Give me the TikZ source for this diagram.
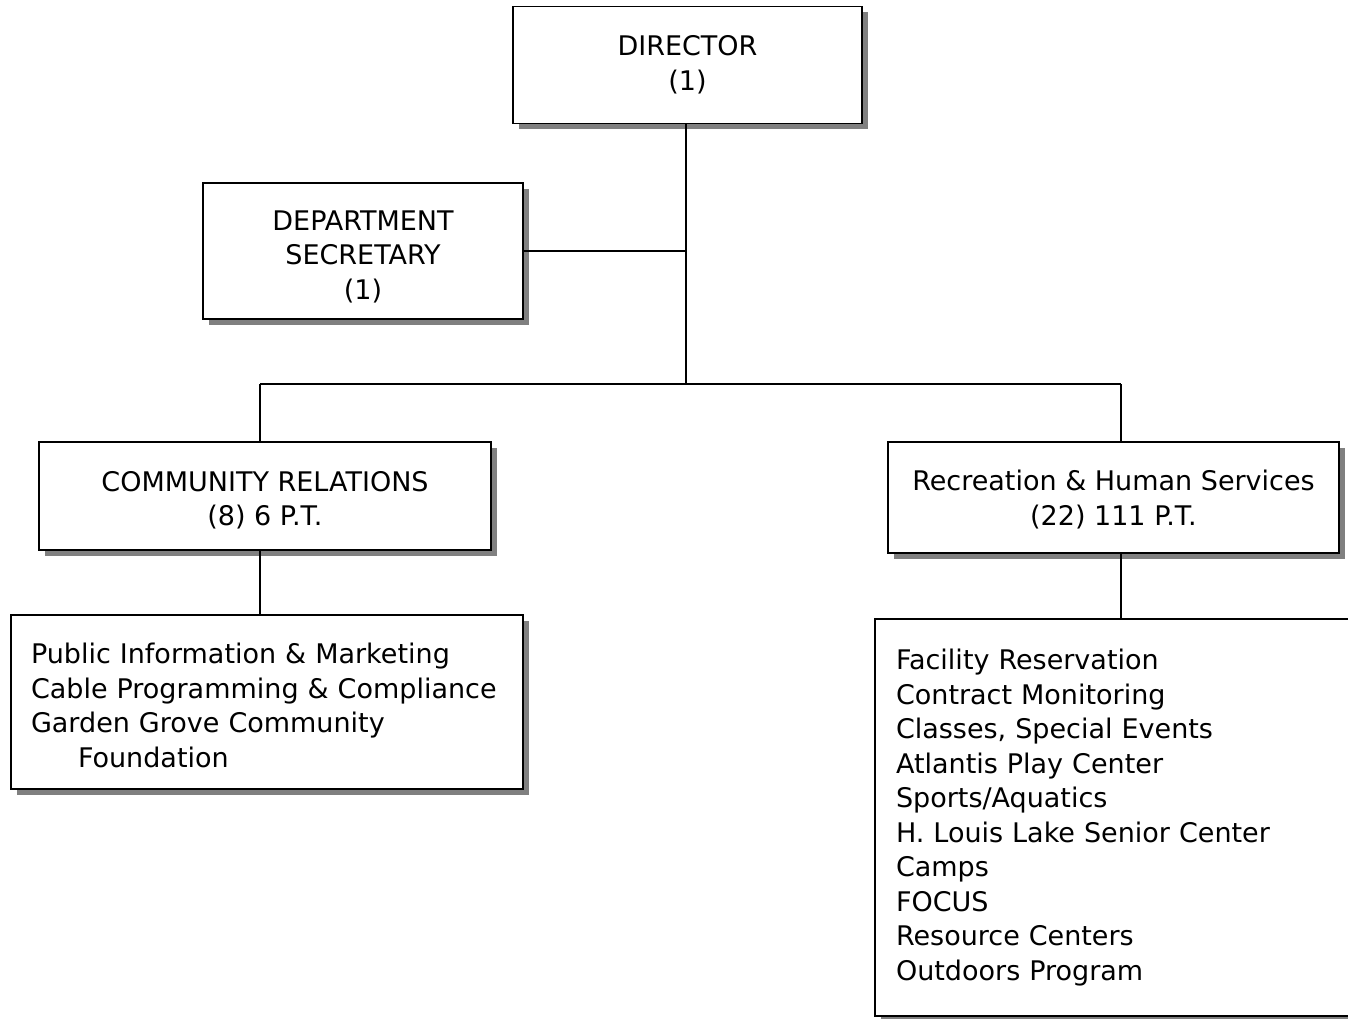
\documentclass[tikz,border=0pt]{standalone}
\usepackage{fontspec}
\setmainfont{DejaVu Sans}
\usetikzlibrary{shadows}
\newcommand{\lift}[1]{\rule{0pt}{#1}}
\begin{document}
\begin{tikzpicture}[x=1pt,y=-1pt,
  box/.style={draw=black,line width=1.6pt,fill=white,inner sep=0pt,
    font=\fontsize{27}{34.5}\selectfont,
    drop shadow={shadow xshift=6pt,shadow yshift=-6pt,fill=black!50,opacity=1}},
  link/.style={line width=1.6pt}]
\useasboundingbox (0,0) rectangle (1348,1019);

% boxes of the chart
\node[box,minimum width=349pt,minimum height=117pt,align=center] (dir) at (687.5,65)
  {DIRECTOR\\(1)};
\node[box,minimum width=320pt,minimum height=136pt,align=center] (sec) at (363,251)
  {\lift{31pt}DEPARTMENT\\SECRETARY\\(1)};
\node[box,minimum width=452pt,minimum height=108pt,align=center] (cr) at (265,496)
  {\lift{29pt}COMMUNITY RELATIONS\\(8) 6 P.T.};
\node[box,minimum width=451pt,minimum height=111pt,align=center] (rhs) at (1113.5,497.5)
  {\lift{25pt}Recreation \& Human Services\\(22) 111 P.T.};
\node[box,text width=472pt,inner xsep=20pt,minimum height=174pt,align=left] (pim) at (267,702)
  {\lift{27pt}Public Information \& Marketing\\Cable Programming \& Compliance\\Garden Grove Community\\\hspace*{47pt}Foundation};
\node[box,text width=480pt,inner xsep=21pt,minimum height=397pt,align=left] (rl) at (1136,817.5)
  {Facility Reservation\\Contract Monitoring\\Classes, Special Events\\Atlantis Play Center\\Sports/Aquatics\\H. Louis Lake Senior Center\\Camps\\FOCUS\\Resource Centers\\Outdoors Program};

% connectors
\coordinate (jm) at (686,384);
\coordinate (jl) at (260,384);
\coordinate (jr) at (1121,384);
\draw[link] (dir.south -| jm) -- (jm);
\draw[link] (sec.east) -- (sec.east -| jm);
\draw[link] (jl) -- (jr);
\draw[link] (jl) -- (jl |- cr.north);
\draw[link] (jr) -- (jr |- rhs.north);
\draw[link] (jl |- cr.south) -- (jl |- pim.north);
\draw[link] (jr |- rhs.south) -- (jr |- rl.north);
\end{tikzpicture}
\end{document}
